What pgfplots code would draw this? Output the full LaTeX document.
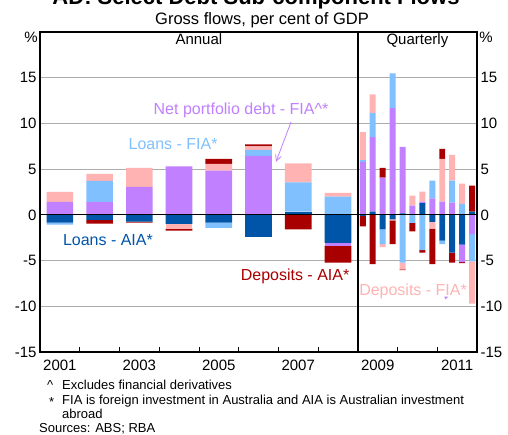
\documentclass[border=0pt]{standalone}
\usepackage{pgfplots}
\pgfplotsset{compat=1.18}
\usepackage{fontspec}
\setmainfont{Liberation Sans}
\usetikzlibrary{arrows.meta}
\definecolor{npd}{HTML}{C080FF}
\definecolor{lfia}{HTML}{80C0FF}
\definecolor{dfia}{HTML}{FFB3B3}
\definecolor{laia}{HTML}{0055A8}
\definecolor{daia}{HTML}{A80000}
\definecolor{gridgray}{HTML}{ADADAD}

\pgfplotsset{
  base/.style={at={(40pt,83pt)}, anchor=south west, scale only axis,
    width=437pt, height=320pt, xmin=2000.5, xmax=2011.5, ymin=-15, ymax=20},
  bars/.style={base, hide axis, ybar stacked, bar width=#1,
    every axis plot/.append style={draw=none}},
}

\begin{document}
\begin{tikzpicture}
\useasboundingbox (0,0) rectangle (508pt,435pt);

% frame, grid, left labels, x labels
\begin{axis}[base,
  axis line style={line width=1.5pt},
  xtick={2001,2003,2005,2007,2009,2011},
  xticklabels={2001,2003,2005,2007,2009,2011},
  minor xtick={2001.5,2002.5,2003.5,2004.5,2005.5,2006.5,2007.5,2009.5,2010.5},
  ytick={-15,-10,-5,0,5,10,15},
  yticklabels={-15,-10,-5,0,5,10,15},
  xtick pos=bottom, ytick pos=left,
  major tick length=0pt, minor tick length=5pt, tick align=inside,
  tick style={black, line width=0.8pt},
  ymajorgrids, major grid style={gridgray, line width=0.9pt},
  ticklabel style={font=\fontsize{15}{18}\selectfont},
  xticklabel style={yshift=-4pt},
]
\end{axis}

% right labels
\begin{axis}[base, hide x axis, axis y line*=right,
  y axis line style={draw=none},
  ytick={-15,-10,-5,0,5,10,15},
  yticklabels={-15,-10,-5,0,5,10,15},
  major tick length=0pt,
  ticklabel style={font=\fontsize{15}{18}\selectfont},
]
\end{axis}

% annual, positive
\begin{axis}[bars=0.67]
\addplot[fill=laia] coordinates {(2001,0) (2002,0) (2003,0) (2004,0) (2005,0) (2006,0) (2007,0.36) (2008,0)};
\addplot[fill=npd] coordinates {(2001,1.42) (2002,1.42) (2003,3.07) (2004,5.29) (2005,4.85) (2006,6.46) (2007,0) (2008,0)};
\addplot[fill=lfia] coordinates {(2001,0) (2002,2.30) (2003,0) (2004,0) (2005,0) (2006,0.66) (2007,3.18) (2008,2.00)};
\addplot[fill=dfia] coordinates {(2001,1.10) (2002,0.77) (2003,2.08) (2004,0) (2005,0.73) (2006,0.36) (2007,2.08) (2008,0.40)};
\addplot[fill=daia] coordinates {(2001,0) (2002,0) (2003,0) (2004,0) (2005,0.55) (2006,0.22) (2007,0) (2008,0)};
\end{axis}

% annual, negative
\begin{axis}[bars=0.67]
\addplot[fill=laia] coordinates {(2001,-0.84) (2002,-0.55) (2003,-0.73) (2004,-1.00) (2005,-0.84) (2006,-2.41) (2007,0) (2008,-3.07)};
\addplot[fill=npd] coordinates {(2001,0) (2002,0) (2003,0) (2004,0) (2005,0) (2006,0) (2007,0) (2008,-0.30)};
\addplot[fill=lfia] coordinates {(2001,-0.22) (2002,0) (2003,0) (2004,0) (2005,-0.58) (2006,0) (2007,0) (2008,0)};
\addplot[fill=dfia] coordinates {(2001,0) (2002,0) (2003,0) (2004,-0.50) (2005,0) (2006,0) (2007,0) (2008,0)};
\addplot[fill=daia] coordinates {(2001,0) (2002,-0.40) (2003,-0.11) (2004,-0.23) (2005,0) (2006,0) (2007,-1.60) (2008,-1.86)};
\end{axis}

% quarterly, positive
\begin{axis}[bars=0.151]
\addplot[fill=laia] coordinates {(2008.625,0) (2008.875,0.36) (2009.125,0) (2009.375,0) (2009.625,0.15) (2009.875,0) (2010.125,1.27) (2010.375,0) (2010.625,0) (2010.875,0) (2011.125,0) (2011.375,0.36)};
\addplot[fill=npd] coordinates {(2008.625,5.80) (2008.875,8.15) (2009.125,4.06) (2009.375,11.67) (2009.625,7.28) (2009.875,1.01) (2010.125,0.18) (2010.375,1.81) (2010.625,1.45) (2010.875,1.34) (2011.125,0) (2011.375,0)};
\addplot[fill=lfia] coordinates {(2008.625,0.18) (2008.875,2.65) (2009.125,0) (2009.375,3.80) (2009.625,0) (2009.875,0) (2010.125,0) (2010.375,1.92) (2010.625,0) (2010.875,2.39) (2011.125,1.20) (2011.375,0)};
\addplot[fill=dfia] coordinates {(2008.625,3.08) (2008.875,2.03) (2009.125,0) (2009.375,0) (2009.625,0) (2009.875,1.09) (2010.125,1.09) (2010.375,0) (2010.625,4.67) (2010.875,2.83) (2011.125,2.21) (2011.375,0)};
\addplot[fill=daia] coordinates {(2008.625,0) (2008.875,0) (2009.125,1.08) (2009.375,0) (2009.625,0) (2009.875,0) (2010.125,0) (2010.375,0) (2010.625,1.09) (2010.875,0) (2011.125,0) (2011.375,2.83)};
\end{axis}

% quarterly, negative
\begin{axis}[bars=0.151]
\addplot[fill=laia] coordinates {(2008.625,-0.15) (2008.875,0) (2009.125,-1.60) (2009.375,-0.50) (2009.625,0) (2009.875,0) (2010.125,0) (2010.375,-0.76) (2010.625,-2.82) (2010.875,-4.13) (2011.125,-3.27) (2011.375,0)};
\addplot[fill=npd] coordinates {(2008.625,0) (2008.875,0) (2009.125,0) (2009.375,0) (2009.625,0) (2009.875,0) (2010.125,0) (2010.375,0) (2010.625,0) (2010.875,0) (2011.125,-1.90) (2011.375,-2.12)};
\addplot[fill=lfia] coordinates {(2008.625,0) (2008.875,0) (2009.125,-1.60) (2009.375,0) (2009.625,-5.22) (2009.875,-0.87) (2010.125,-3.87) (2010.375,0) (2010.625,-0.38) (2010.875,0) (2011.125,0) (2011.375,-2.98)};
\addplot[fill=dfia] coordinates {(2008.625,0) (2008.875,0) (2009.125,-0.33) (2009.375,-0.10) (2009.625,-0.73) (2009.875,0) (2010.125,0) (2010.375,-0.74) (2010.625,0) (2010.875,0) (2011.125,0) (2011.375,-4.60)};
\addplot[fill=daia] coordinates {(2008.625,-1.10) (2008.875,-5.40) (2009.125,0) (2009.375,-2.60) (2009.625,-0.10) (2009.875,-0.93) (2010.125,-0.26) (2010.375,-3.90) (2010.625,0) (2010.875,-1.09) (2011.125,-0.10) (2011.375,0)};
\end{axis}

% overlay: zero line, divider, annotations
\begin{axis}[base, hide axis, clip=false]
\addplot[black, line width=1.2pt] coordinates {(2000.5,0) (2011.5,0)};
\draw[black, line width=2pt] (axis cs:2008.5,-15) -- (axis cs:2008.5,20);
\node[font=\fontsize{15}{18}\selectfont, anchor=base] at (axis cs:2004.5,18.58) {Annual};
\node[font=\fontsize{15}{18}\selectfont, anchor=base] at (axis cs:2010,18.58) {Quarterly};
\node[font=\fontsize{16}{19}\selectfont, text=npd] at (axis cs:2005.56,11.48) {Net portfolio debt - FIA\textasciicircum*};
\draw[npd, line width=0.8pt, -{Straight Barb[length=6pt,width=6pt]}] (axis cs:2006.82,10.17) -- (axis cs:2006.44,5.80);
\node[font=\fontsize{16}{19}\selectfont, text=lfia] at (axis cs:2003.85,7.77) {Loans - FIA*};
\node[font=\fontsize{16}{19}\selectfont, text=laia] at (axis cs:2002.21,-2.73) {Loans - AIA*};
\node[font=\fontsize{16}{19}\selectfont, text=daia] at (axis cs:2006.92,-6.78) {Deposits - AIA*};
\node[font=\fontsize{16}{19}\selectfont, text=dfia] at (axis cs:2009.89,-8.42) {Deposits - FIA*};
\fill[npd] (axis cs:2010.68,-8.95) -- (axis cs:2010.78,-8.95) -- (axis cs:2010.70,-9.25) -- cycle;
\end{axis}

% titles and notes
\node[anchor=base, font=\bfseries\fontsize{22}{26}\selectfont] at (256pt,430pt) {AD: Select Debt Sub-component Flows};
\node[anchor=base, font=\fontsize{16.5}{20}\selectfont] at (262pt,410pt) {Gross flows, per cent of GDP};
\node[anchor=base, font=\fontsize{15}{18}\selectfont] at (31pt,392pt) {\%};
\node[anchor=base, font=\fontsize{15}{18}\selectfont] at (486pt,392pt) {\%};
\begin{scope}[every node/.style={anchor=base west, inner sep=0pt, font=\fontsize{13}{15}\selectfont}]
\node at (47pt,45pt) {\textasciicircum};
\node at (62pt,45pt) {Excludes financial derivatives};
\node at (49pt,28pt) {*};
\node at (62pt,30pt) {FIA is foreign investment in Australia and AIA is Australian investment};
\node at (62pt,16pt) {abroad};
\node at (39pt,2pt) {Sources: ABS; RBA};
\end{scope}
\end{tikzpicture}
\end{document}
